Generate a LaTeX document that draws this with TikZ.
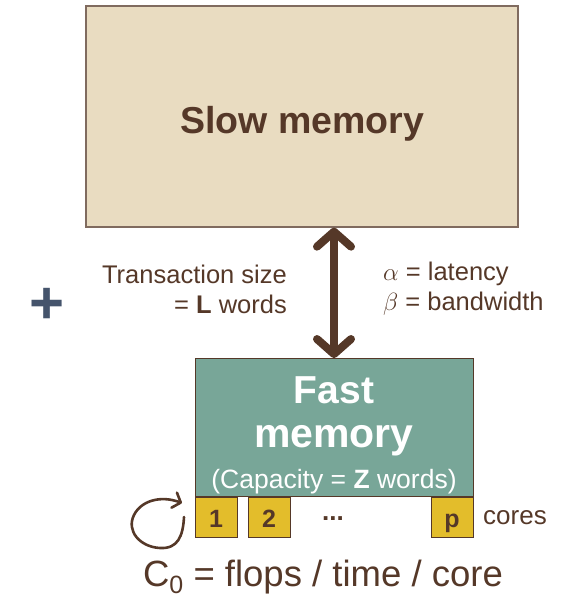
\documentclass[tikz,border=0pt]{standalone}
\usepackage{fontspec}
\setmainfont{Liberation Sans}
\usetikzlibrary{arrows.meta, positioning, calc}
\definecolor{brownText}{HTML}{553828}
\definecolor{slowFill}{HTML}{E9DCC1}
\definecolor{slowLine}{HTML}{806B5F}
\definecolor{fastFill}{HTML}{78A698}
\definecolor{coreFill}{HTML}{E3BD2B}
\definecolor{plusBlue}{HTML}{45546C}
\newcommand{\fsz}[1]{\fontsize{#1}{#1}\selectfont}
\tikzset{
    memBox/.style args={#1 #2}{
        draw=#2, fill=#1, line width=1.3pt, inner sep=0pt
    },
    coreBox/.style={
        draw=brownText, fill=coreFill, line width=0.8pt, inner sep=0pt,
        minimum width=42pt, minimum height=40pt, text height=24pt, text depth=4pt,
        font=\fsz{25}\bfseries, text=brownText
    },
    bigArrow/.style={
        draw=brownText, line width=8pt,
        {Straight Barb[length=15pt, width=34pt, line cap=round, line join=round]}-{Straight Barb[length=15pt, width=34pt, line cap=round, line join=round]}
    },
    txtLbl/.style={text=brownText, inner sep=0pt, font=\fontsize{25.5}{30}\selectfont},
    fastLbl/.style={text=white, inner sep=0pt, anchor=base}
}
\begin{document}
\begin{tikzpicture}[x=1pt, y=-1pt]
    \useasboundingbox (0,0) rectangle (577,599);
    % memories
    \node[memBox={slowFill slowLine}, minimum width=432pt, minimum height=221pt] (slow) at (302,116.5) {};
    \node[txtLbl, font=\fsz{37.5}\bfseries, anchor=base] (slowTitle) at (302,133) {Slow memory};
    \node[memBox={fastFill brownText}, line width=0.9pt, minimum width=278pt, minimum height=138pt] (fast) at (334,427.5) {};
    \node[fastLbl, font=\fsz{39}\bfseries] (fastTitle) at (334,403) {Fast};
    \node[fastLbl, font=\fsz{41}\bfseries] (fastTitleB) at (334,447) {memory};
    \node[fastLbl, font=\fsz{26.5}] (fastCap) at (334,488) {(Capacity = \textbf{Z} words)};
    % transfer
    \draw[bigArrow] (fast.north |- slow.south) -- (fast.north);
    \node[txtLbl, anchor=east, align=right] (transSize) at (287,289) {Transaction size\\= \textbf{L} words};
    \node[txtLbl, anchor=west, align=left] (transCost) at (383,289) {$\alpha$ = latency\\$\beta$ = bandwidth};
    \node[text=plusBlue, inner sep=0pt, font=\fsz{60}\bfseries] (plus) at (47,306) {+};
    % cores
    \node[coreBox] (core1) at (216,517) {1};
    \node[coreBox] (core2) at (269,517) {2};
    \node[coreBox] (coreP) at (452,517) {p};
    \node[txtLbl, font=\fsz{26}\bfseries] (dots) at (333,519) {...};
    \node[txtLbl, font=\fsz{26}, anchor=base west] (coresLbl) at (483,524) {cores};
    \coordinate (loopStart) at (184,517);
    \coordinate (loopEnd) at (182,503);
    \draw[brownText, line width=2.6pt, line cap=round, -{Straight Barb[length=7pt, width=16pt, line cap=round, line join=round]}]
        (loopStart) .. controls (183,536) and (178,549) .. (160,548)
        .. controls (140,547) and (126,531) .. (134,515)
        .. controls (141,501) and (160,495) .. (loopEnd);
    \node[txtLbl, font=\fsz{36.5}, anchor=base] (flopsLbl) at (323,586) {C\raisebox{-0.4ex}{\fsz{25}0} = flops / time / core};
\end{tikzpicture}
\end{document}
